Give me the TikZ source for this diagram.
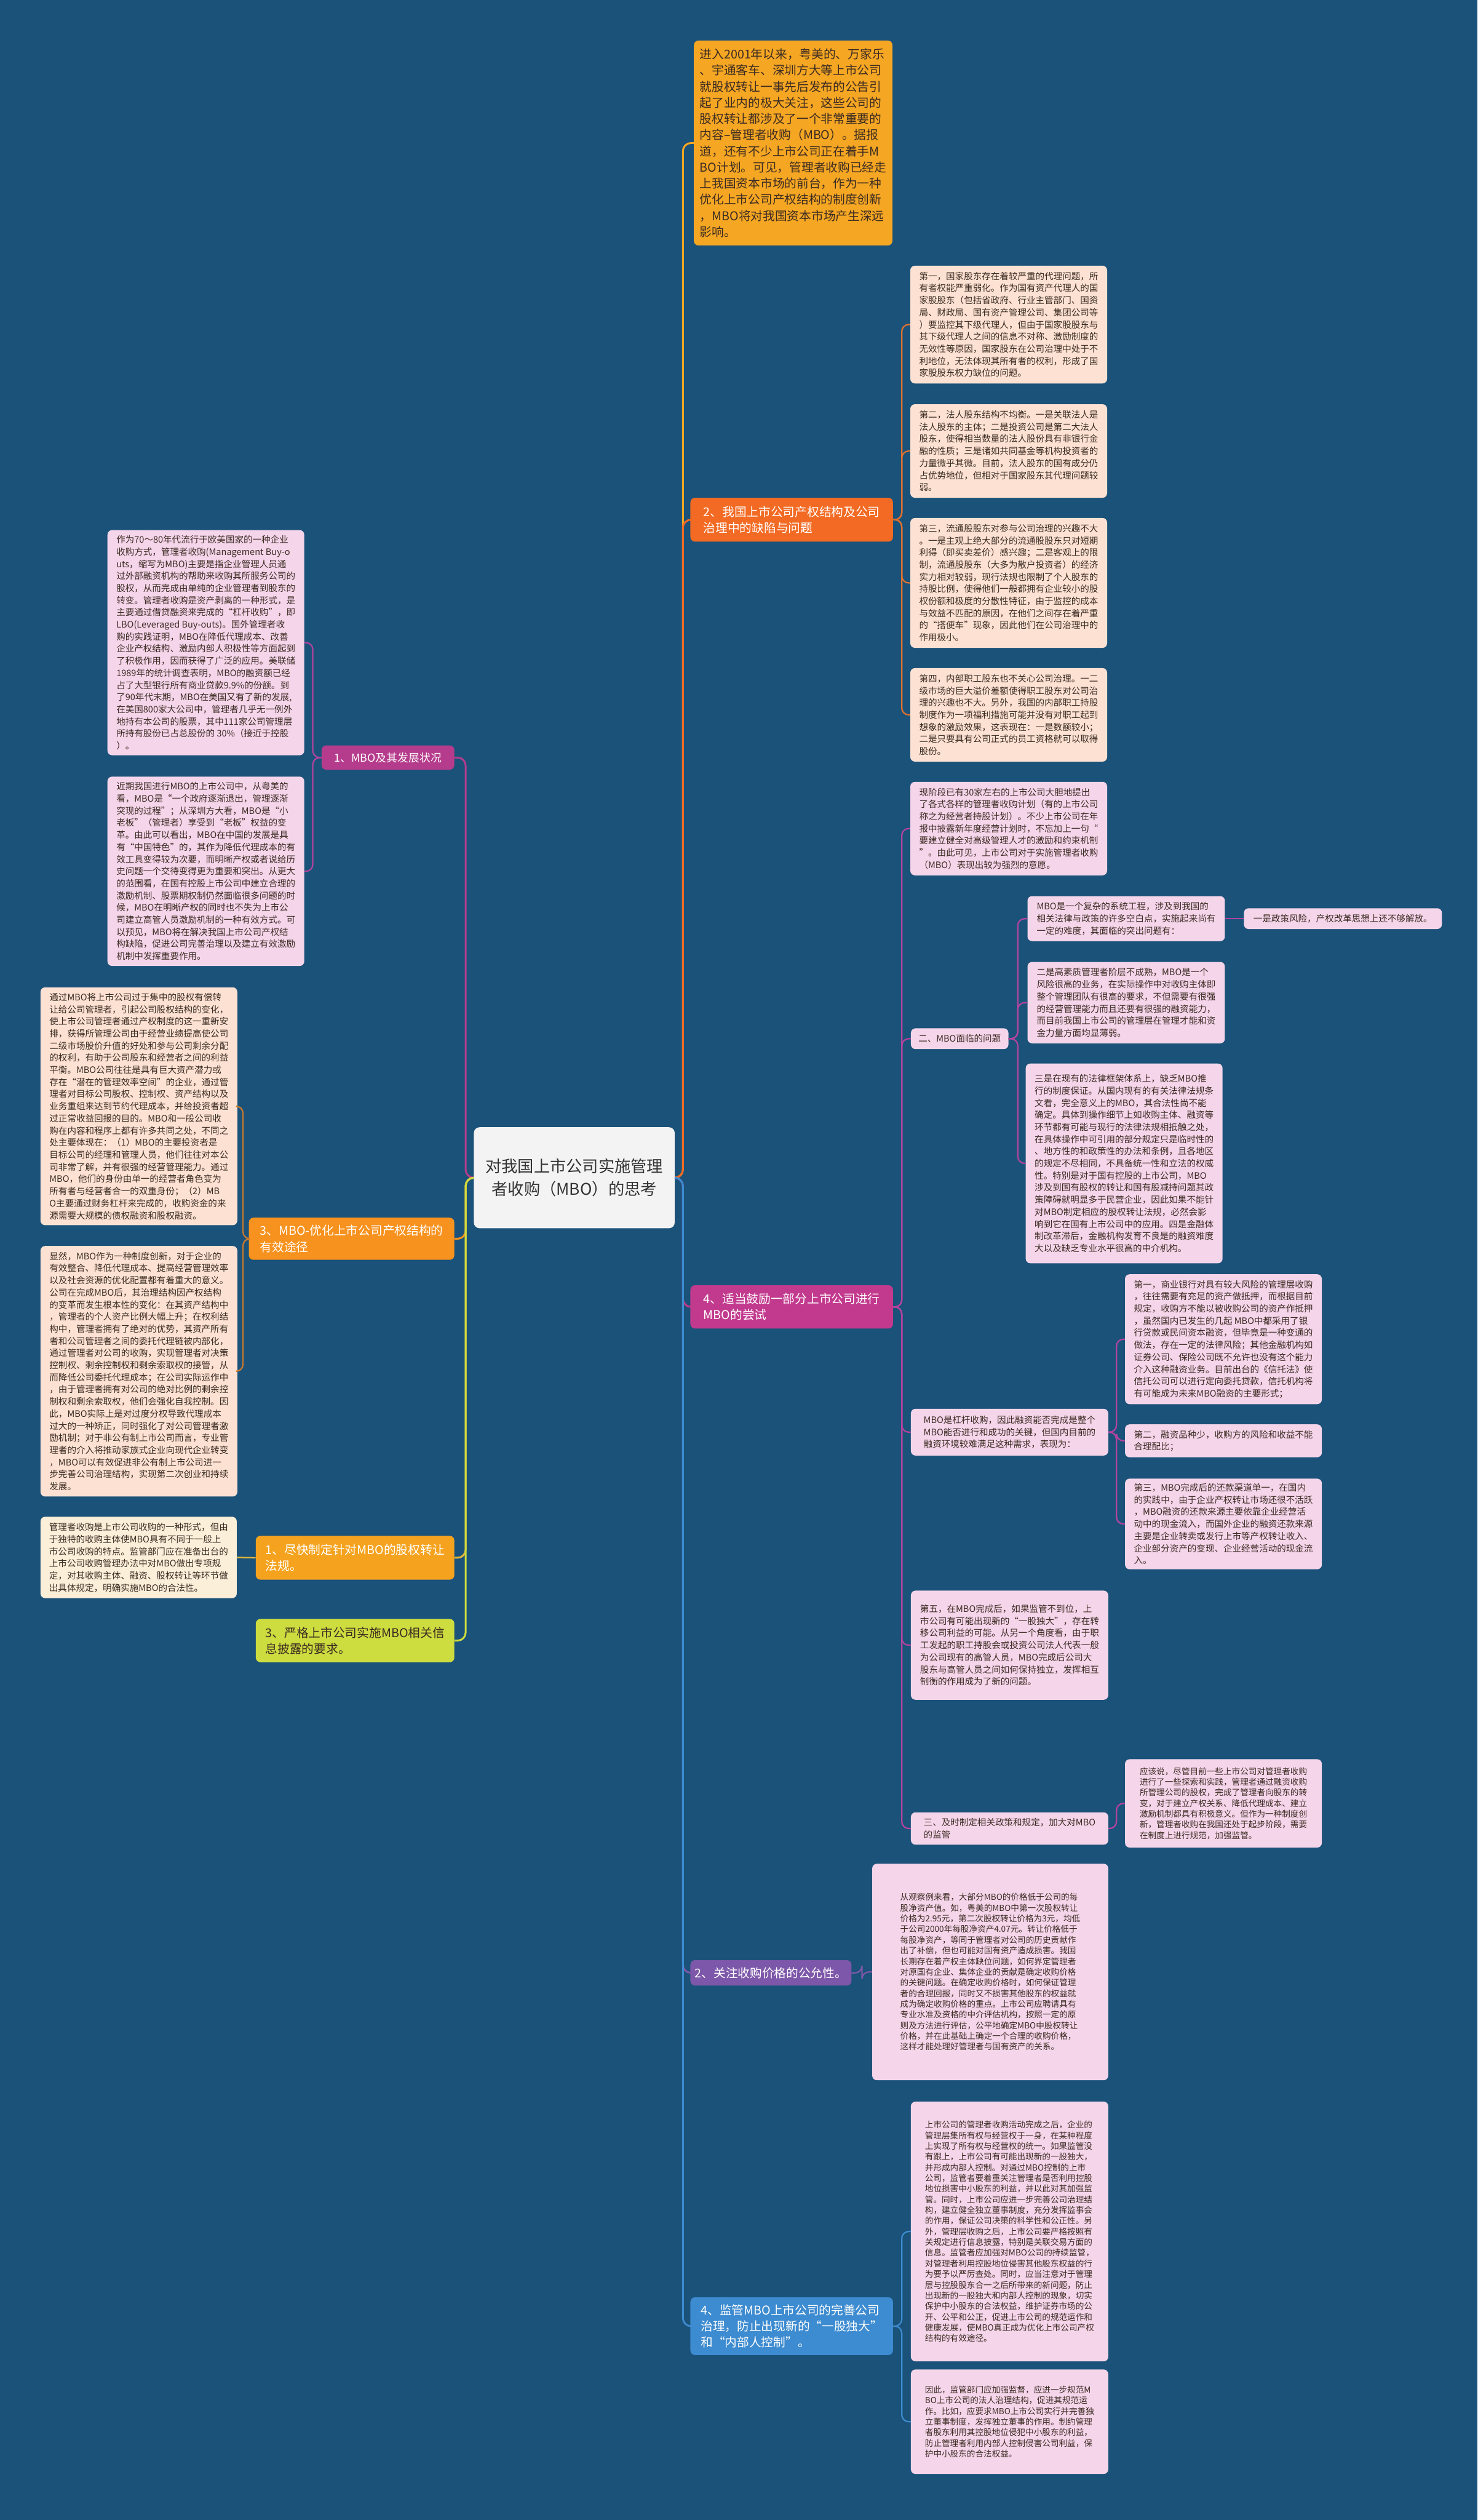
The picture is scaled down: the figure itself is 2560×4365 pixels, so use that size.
\documentclass[tikz,border=0pt]{standalone}
\usepackage{fontspec}
\setmainfont{Noto Sans CJK SC}
\definecolor{bg}{HTML}{1B5279}
\definecolor{cnode}{HTML}{F3F3F3}
\definecolor{orangeA}{HTML}{F5A623}
\definecolor{redorange}{HTML}{F26A23}
\definecolor{magentaC}{HTML}{C23A8E}
\definecolor{purpleD}{HTML}{7D57A9}
\definecolor{blueE}{HTML}{3D8BD0}
\definecolor{magentaF}{HTML}{B53C8C}
\definecolor{orangeG}{HTML}{F7921E}
\definecolor{orangeH}{HTML}{F5A31F}
\definecolor{limeI}{HTML}{CDDC3F}
\definecolor{peach}{HTML}{FDE2D3}
\definecolor{pinkbox}{HTML}{F5D5EA}
\definecolor{cream}{HTML}{FCEFD9}
\definecolor{txt}{HTML}{3B2B22}
\definecolor{lineorange}{HTML}{E0712F}
\definecolor{linemag}{HTML}{B2449E}
\definecolor{linebrown}{HTML}{C9782E}
\definecolor{linegold}{HTML}{E3B63A}
\tikzset{
  box/.style={rounded corners=8pt, anchor=north west, align=left, inner sep=0pt, text=txt},
  sm/.style={font=\fontsize{15.5}{21}\selectfont},
  xs/.style={font=\fontsize{14.5}{18.5}\selectfont},
  bg2/.style={font=\fontsize{21}{28}\selectfont},
  mainline/.style={line width=3.2pt, rounded corners=14pt},
  subline/.style={line width=2.4pt, rounded corners=12pt}
}
\begin{document}
\begin{tikzpicture}[x=1pt,y=-1pt]
\useasboundingbox (0,0) rectangle (2560,4365);
\fill[bg] (0,0) rectangle (2560,4365);

% center
\node[rounded corners=10pt, fill=cnode, text=black!80, align=center, minimum width=348, minimum height=175, font=\fontsize{28}{40}\selectfont] (ctr) at (995,2040) {对我国上市公司实施管理\\者收购（MBO）的思考};

% ===== right branches =====
\node[box, bg2, fill=orangeA, minimum width=344, minimum height=355] (A) at (1202,70) {进入2001年以来，粤美的、万家乐\\、宇通客车、深圳方大等上市公司\\就股权转让一事先后发布的公告引\\起了业内的极大关注，这些公司的\\股权转让都涉及了一个非常重要的\\内容--管理者收购（MBO）。据报\\道，还有不少上市公司正在着手M\\BO计划。可见，管理者收购已经走\\上我国资本市场的前台，作为一种\\优化上市公司产权结构的制度创新\\，MBO将对我国资本市场产生深远\\影响。};

\node[box, bg2, fill=redorange, text=white, minimum width=351, minimum height=76] (B) at (1196,862) {2、我国上市公司产权结构及公司\\治理中的缺陷与问题};

\node[box, sm, fill=peach, minimum width=341, minimum height=204] (B1) at (1577,460) {第一，国家股东存在着较严重的代理问题，所\\有者权能严重弱化。作为国有资产代理人的国\\家股股东（包括省政府、行业主管部门、国资\\局、财政局、国有资产管理公司、集团公司等\\）要监控其下级代理人，但由于国家股股东与\\其下级代理人之间的信息不对称、激励制度的\\无效性等原因，国家股东在公司治理中处于不\\利地位，无法体现其所有者的权利，形成了国\\家股股东权力缺位的问题。};
\node[box, sm, fill=peach, minimum width=341, minimum height=162] (B2) at (1577,700) {第二，法人股东结构不均衡。一是关联法人是\\法人股东的主体；二是投资公司是第二大法人\\股东，使得相当数量的法人股份具有非银行金\\融的性质；三是诸如共同基金等机构投资者的\\力量微乎其微。目前，法人股东的国有成分仍\\占优势地位，但相对于国家股东其代理问题较\\弱。};
\node[box, sm, fill=peach, minimum width=341, minimum height=225] (B3) at (1577,897) {第三，流通股股东对参与公司治理的兴趣不大\\。一是主观上绝大部分的流通股股东只对短期\\利得（即买卖差价）感兴趣；二是客观上的限\\制，流通股股东（大多为散户投资者）的经济\\实力相对较弱，现行法规也限制了个人股东的\\持股比例，使得他们一般都拥有企业较小的股\\权份额和极度的分散性特征，由于监控的成本\\与效益不匹配的原因，在他们之间存在着严重\\的“搭便车”现象，因此他们在公司治理中的\\作用极小。};
\node[box, sm, fill=peach, minimum width=341, minimum height=162] (B4) at (1577,1157) {第四，内部职工股东也不关心公司治理。一二\\级市场的巨大溢价差额使得职工股东对公司治\\理的兴趣也不大。另外，我国的内部职工持股\\制度作为一项福利措施可能并没有对职工起到\\想象的激励效果，这表现在：一是数额较小；\\二是只要具有公司正式的员工资格就可以取得\\股份。};

\node[box, bg2, fill=magentaC, text=white, minimum width=351, minimum height=75] (C) at (1196,2226) {4、适当鼓励一部分上市公司进行\\MBO的尝试};

\node[box, sm, fill=pinkbox, minimum width=341, minimum height=162] (C1) at (1577,1354) {现阶段已有30家左右的上市公司大胆地提出\\了各式各样的管理者收购计划（有的上市公司\\称之为经营者持股计划）。不少上市公司在年\\报中披露新年度经营计划时，不忘加上一句“\\要建立健全对高级管理人才的激励和约束机制\\”。由此可见，上市公司对于实施管理者收购\\（MBO）表现出较为强烈的意愿。};
\node[box, sm, fill=pinkbox, align=center, minimum width=169, minimum height=36] (C2) at (1578,1781) {二、MBO面临的问题};
\node[box, sm, fill=pinkbox, minimum width=342, minimum height=78] (C2a) at (1780,1552) {MBO是一个复杂的系统工程，涉及到我国的\\相关法律与政策的许多空白点，实施起来尚有\\一定的难度，其面临的突出问题有：};
\node[box, sm, fill=pinkbox, minimum width=343, minimum height=36] (C2a1) at (2155,1573) {一是政策风险，产权改革思想上还不够解放。};
\node[box, sm, fill=pinkbox, minimum width=342, minimum height=141] (C2b) at (1780,1666) {二是高素质管理者阶层不成熟，MBO是一个\\风险很高的业务，在实际操作中对收购主体即\\整个管理团队有很高的要求，不但需要有很强\\的经营管理能力而且还要有很强的融资能力，\\而目前我国上市公司的管理层在管理才能和资\\金力量方面均显薄弱。};
\node[box, sm, fill=pinkbox, minimum width=341, minimum height=346] (C2c) at (1777,1842) {三是在现有的法律框架体系上，缺乏MBO推\\行的制度保证。从国内现有的有关法律法规条\\文看，完全意义上的MBO，其合法性尚不能\\确定。具体到操作细节上如收购主体、融资等\\环节都有可能与现行的法律法规相抵触之处，\\在具体操作中可引用的部分规定只是临时性的\\、地方性的和政策性的办法和条例，且各地区\\的规定不尽相同，不具备统一性和立法的权威\\性。特别是对于国有控股的上市公司，MBO\\涉及到国有股权的转让和国有股减持问题其政\\策障碍就明显多于民营企业，因此如果不能针\\对MBO制定相应的股权转让法规，必然会影\\响到它在国有上市公司中的应用。四是金融体\\制改革滞后，金融机构发育不良是的融资难度\\大以及缺乏专业水平很高的中介机构。};
\node[box, sm, fill=pinkbox, minimum width=342, minimum height=81] (C2d) at (1578,2440) {MBO是杠杆收购，因此融资能否完成是整个\\MBO能否进行和成功的关键，但国内目前的\\融资环境较难满足这种需求，表现为：};
\node[box, sm, fill=pinkbox, minimum width=341, minimum height=225] (C2d1) at (1949,2207) {第一，商业银行对具有较大风险的管理层收购\\，往往需要有充足的资产做抵押，而根据目前\\规定，收购方不能以被收购公司的资产作抵押\\，虽然国内已发生的几起 MBO中都采用了银\\行贷款或民间资本融资，但毕竟是一种变通的\\做法，存在一定的法律风险；其他金融机构如\\证券公司、保险公司既不允许也没有这个能力\\介入这种融资业务。目前出台的《信托法》使\\信托公司可以进行定向委托贷款，信托机构将\\有可能成为未来MBO融资的主要形式；};
\node[box, sm, fill=pinkbox, minimum width=341, minimum height=57] (C2d2) at (1949,2467) {第二，融资品种少，收购方的风险和收益不能\\合理配比；};
\node[box, sm, fill=pinkbox, minimum width=341, minimum height=157] (C2d3) at (1949,2561) {第三，MBO完成后的还款渠道单一，在国内\\的实践中，由于企业产权转让市场还很不活跃\\，MBO融资的还款来源主要依靠企业经营活\\动中的现金流入，而国外企业的融资还款来源\\主要是企业转卖或发行上市等产权转让收入、\\企业部分资产的变现、企业经营活动的现金流\\入。};
\node[box, sm, fill=pinkbox, minimum width=342, minimum height=189] (C2e) at (1578,2755) {第五，在MBO完成后，如果监管不到位，上\\市公司有可能出现新的“一股独大”，存在转\\移公司利益的可能。从另一个角度看，由于职\\工发起的职工持股会或投资公司法人代表一般\\为公司现有的高管人员，MBO完成后公司大\\股东与高管人员之间如何保持独立，发挥相互\\制衡的作用成为了新的问题。};
\node[box, sm, fill=pinkbox, minimum width=342, minimum height=56] (C3) at (1578,3139) {三、及时制定相关政策和规定，加大对MBO\\的监管};
\node[box, xs, fill=pinkbox, minimum width=341, minimum height=153] (C3a) at (1949,3047) {应该说，尽管目前一些上市公司对管理者收购\\进行了一些探索和实践，管理者通过融资收购\\所管理公司的股权，完成了管理者向股东的转\\变，对于建立产权关系、降低代理成本、建立\\激励机制都具有积极意义。但作为一种制度创\\新，管理者收购在我国还处于起步阶段，需要\\在制度上进行规范，加强监管。};

\node[box, bg2, fill=purpleD, text=white, minimum width=279, minimum height=44] (D) at (1196,3395) {2、关注收购价格的公允性。};
\node[box, xs, fill=pinkbox, minimum width=409, minimum height=375] (D1) at (1511,3228) {从观察例来看，大部分MBO的价格低于公司的每\\股净资产值。如，粤美的MBO中第一次股权转让\\价格为2.95元，第二次股权转让价格为3元，均低\\于公司2000年每股净资产4.07元。转让价格低于\\每股净资产，等同于管理者对公司的历史贡献作\\出了补偿，但也可能对国有资产造成损害。我国\\长期存在着产权主体缺位问题，如何界定管理者\\对原国有企业、集体企业的贡献是确定收购价格\\的关键问题。在确定收购价格时，如何保证管理\\者的合理回报，同时又不损害其他股东的权益就\\成为确定收购价格的重点。上市公司应聘请具有\\专业水准及资格的中介评估机构，按照一定的原\\则及方法进行评估，公平地确定MBO中股权转让\\价格，并在此基础上确定一个合理的收购价格，\\这样才能处理好管理者与国有资产的关系。};

\node[box, bg2, fill=blueE, text=white, minimum width=351, minimum height=100] (E) at (1196,3979) {4、监管MBO上市公司的完善公司\\治理，防止出现新的“一股独大”\\和“内部人控制”。};
\node[box, xs, fill=pinkbox, minimum width=342, minimum height=450] (E1) at (1578,3640) {上市公司的管理者收购活动完成之后，企业的\\管理层集所有权与经营权于一身，在某种程度\\上实现了所有权与经营权的统一。如果监管没\\有跟上，上市公司有可能出现新的一股独大，\\并形成内部人控制。对通过MBO控制的上市\\公司，监管者要着重关注管理者是否利用控股\\地位损害中小股东的利益，并以此对其加强监\\管。同时，上市公司应进一步完善公司治理结\\构，建立健全独立董事制度，充分发挥监事会\\的作用，保证公司决策的科学性和公正性。另\\外，管理层收购之后，上市公司要严格按照有\\关规定进行信息披露，特别是关联交易方面的\\信息。监管者应加强对MBO公司的持续监管，\\对管理者利用控股地位侵害其他股东权益的行\\为要予以严厉查处。同时，应当注意对于管理\\层与控股股东合一之后所带来的新问题，防止\\出现新的一股独大和内部人控制的现象，切实\\保护中小股东的合法权益，维护证券市场的公\\开、公平和公正，促进上市公司的规范运作和\\健康发展，使MBO真正成为优化上市公司产权\\结构的有效途径。};
\node[box, xs, fill=pinkbox, minimum width=342, minimum height=181] (E2) at (1578,4104) {因此，监管部门应加强监督，应进一步规范M\\BO上市公司的法人治理结构，促进其规范运\\作。比如，应要求MBO上市公司实行并完善独\\立董事制度，发挥独立董事的作用。制约管理\\者股东利用其控股地位侵犯中小股东的利益，\\防止管理者利用内部人控制侵害公司利益，保\\护中小股东的合法权益。};

% ===== left branches =====
\node[box, fill=magentaF, text=white, align=center, minimum width=230, minimum height=42, font=\fontsize{19}{24}\selectfont] (F) at (557,1291) {1、MBO及其发展状况};
\node[box, sm, fill=pinkbox, minimum width=341, minimum height=390] (F1) at (186,918) {作为70～80年代流行于欧美国家的一种企业\\收购方式，管理者收购(Management Buy-o\\uts，缩写为MBO)主要是指企业管理人员通\\过外部融资机构的帮助来收购其所服务公司的\\股权，从而完成由单纯的企业管理者到股东的\\转变。管理者收购是资产剥离的一种形式，是\\主要通过借贷融资来完成的“杠杆收购”，即\\LBO(Leveraged Buy-outs)。国外管理者收\\购的实践证明，MBO在降低代理成本、改善\\企业产权结构、激励内部人积极性等方面起到\\了积极作用，因而获得了广泛的应用。美联储\\1989年的统计调查表明，MBO的融资额已经\\占了大型银行所有商业贷款9.9\%的份额。到\\了90年代末期，MBO在美国又有了新的发展,\\在美国800家大公司中，管理者几乎无一例外\\地持有本公司的股票，其中111家公司管理层\\所持有股份已占总股份的 30\%（接近于控股\\）。};
\node[box, sm, fill=pinkbox, minimum width=341, minimum height=328] (F2) at (186,1345) {近期我国进行MBO的上市公司中，从粤美的\\看，MBO是“一个政府逐渐退出，管理逐渐\\突现的过程”；从深圳方大看，MBO是“小\\老板”（管理者）享受到“老板”权益的变\\革。由此可以看出，MBO在中国的发展是具\\有“中国特色”的，其作为降低代理成本的有\\效工具变得较为次要，而明晰产权或者说给历\\史问题一个交待变得更为重要和突出。从更大\\的范围看，在国有控股上市公司中建立合理的\\激励机制、股票期权制仍然面临很多问题的时\\候，MBO在明晰产权的同时也不失为上市公\\司建立高管人员激励机制的一种有效方式。可\\以预见，MBO将在解决我国上市公司产权结\\构缺陷，促进公司完善治理以及建立有效激励\\机制中发挥重要作用。};

\node[box, bg2, fill=orangeG, text=white, minimum width=356, minimum height=73] (G) at (431,2109) {3、MBO-优化上市公司产权结构的\\有效途径};
\node[box, sm, fill=peach, minimum width=341, minimum height=412] (G1) at (70,1710) {通过MBO将上市公司过于集中的股权有偿转\\让给公司管理者，引起公司股权结构的变化，\\使上市公司管理者通过产权制度的这一重新安\\排，获得所管理公司由于经营业绩提高使公司\\二级市场股价升值的好处和参与公司剩余分配\\的权利，有助于公司股东和经营者之间的利益\\平衡。MBO公司往往是具有巨大资产潜力或\\存在“潜在的管理效率空间”的企业，通过管\\理者对目标公司股权、控制权、资产结构以及\\业务重组来达到节约代理成本，并给投资者超\\过正常收益回报的目的。MBO和一般公司收\\购在内容和程序上都有许多共同之处，不同之\\处主要体现在：（1）MBO的主要投资者是\\目标公司的经理和管理人员，他们往往对本公\\司非常了解，并有很强的经营管理能力。通过\\MBO，他们的身份由单一的经营者角色变为\\所有者与经营者合一的双重身份；（2）MB\\O主要通过财务杠杆来完成的，收购资金的来\\源需要大规模的债权融资和股权融资。};
\node[box, sm, fill=peach, minimum width=341, minimum height=434] (G2) at (70,2158) {显然，MBO作为一种制度创新，对于企业的\\有效整合、降低代理成本、提高经营管理效率\\以及社会资源的优化配置都有着重大的意义。\\公司在完成MBO后，其治理结构因产权结构\\的变革而发生根本性的变化：在其资产结构中\\，管理者的个人资产比例大幅上升；在权利结\\构中，管理者拥有了绝对的优势，其资产所有\\者和公司管理者之间的委托代理链被内部化，\\通过管理者对公司的收购，实现管理者对决策\\控制权、剩余控制权和剩余索取权的接管，从\\而降低公司委托代理成本；在公司实际运作中\\，由于管理者拥有对公司的绝对比例的剩余控\\制权和剩余索取权，他们会强化自我控制。因\\此，MBO实际上是对过度分权导致代理成本\\过大的一种矫正，同时强化了对公司管理者激\\励机制；对于非公有制上市公司而言，专业管\\理者的介入将推动家族式企业向现代企业转变\\，MBO可以有效促进非公有制上市公司进一\\步完善公司治理结构，实现第二次创业和持续\\发展。};

\node[box, bg2, fill=orangeH, text=white, minimum width=344, minimum height=76] (H) at (443,2660) {1、尽快制定针对MBO的股权转让\\法规。};
\node[box, sm, fill=cream, minimum width=340, minimum height=141] (H1) at (70,2627) {管理者收购是上市公司收购的一种形式，但由\\于独特的收购主体使MBO具有不同于一般上\\市公司收购的特点。监管部门应在准备出台的\\上市公司收购管理办法中对MBO做出专项规\\定，对其收购主体、融资、股权转让等环节做\\出具体规定，明确实施MBO的合法性。};

\node[box, bg2, fill=limeI, minimum width=344, minimum height=75] (I) at (443,2804) {3、严格上市公司实施MBO相关信\\息披露的要求。};

% ===== connectors: center to branches =====
\draw[mainline, draw=orangeA] (ctr.east) -- ++(14,0) |- (A.west);
\draw[mainline, draw=redorange] (ctr.east) -- ++(14,0) |- (B.west);
\draw[mainline, draw=magentaC] (ctr.east) -- ++(14,0) |- (C.west);
\draw[mainline, draw=purpleD] (ctr.east) -- ++(14,0) |- (D.west);
\draw[mainline, draw=blueE] (ctr.east) -- ++(14,0) |- (E.west);
\draw[mainline, draw=magentaF] (ctr.west) -- ++(-14,0) |- (F.east);
\draw[mainline, draw=orangeG] (ctr.west) -- ++(-14,0) |- (G.east);
\draw[mainline, draw=linegold] (ctr.west) -- ++(-14,0) |- (H.east);
\draw[mainline, draw=limeI] (ctr.west) -- ++(-14,0) |- (I.east);

% ===== sub connectors =====
\foreach \c in {B1,B2,B3,B4} \draw[subline, draw=lineorange] (B.east) -- ++(15,0) |- (\c.west);
\foreach \c in {C1,C2,C2d,C2e,C3} \draw[subline, draw=linemag] (C.east) -- ++(15,0) |- (\c.west);
\foreach \c in {C2a,C2b,C2c} \draw[subline, draw=linemag] (C2.east) -- ++(16,0) |- (\c.west);
\draw[subline, draw=linemag] (C2a.east) -- (C2a1.west |- C2a.east);
\foreach \c in {C2d1,C2d2,C2d3} \draw[subline, draw=linemag] (C2d.east) -- ++(14,0) |- (\c.west);
\draw[subline, draw=linemag] (C3.east) -- ++(14,0) |- (C3a.west);
\draw[subline, draw=purpleD] (D.east) -- ++(18,0) |- (D1.west);
\foreach \c in {E1,E2} \draw[subline, draw=blueE] (E.east) -- ++(15,0) |- (\c.west);
\foreach \c in {F1,F2} \draw[subline, draw=linemag] (F.west) -- ++(-15,0) |- (\c.east);
\foreach \c in {G1,G2} \draw[subline, draw=linebrown] (G.west) -- ++(-10,0) |- (\c.east);
\draw[subline, draw=linegold] (H.west) -- (H1.east);
\end{tikzpicture}
\end{document}
